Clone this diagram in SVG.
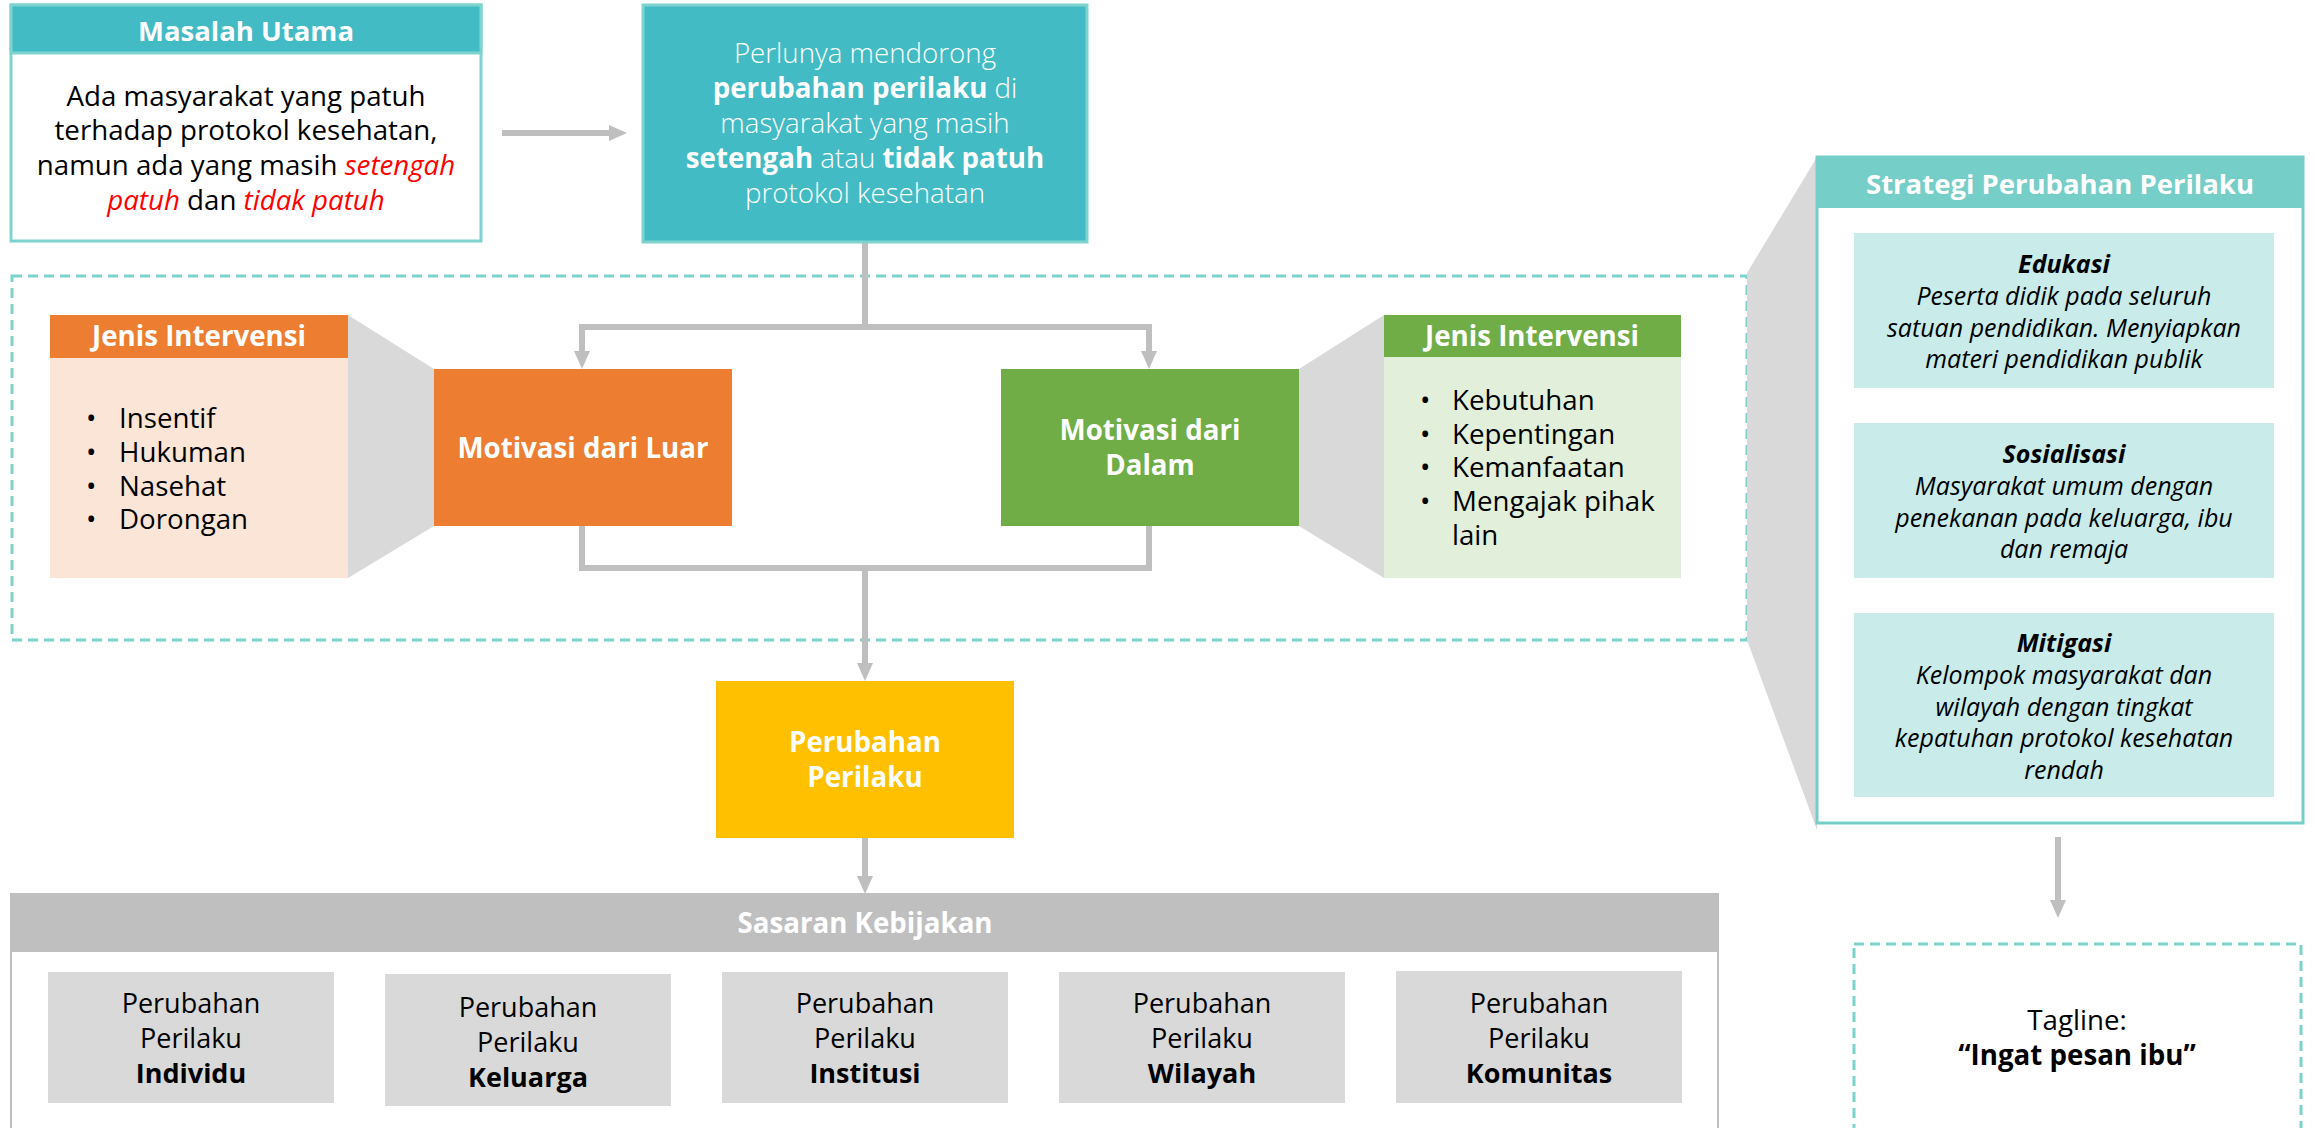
<svg xmlns="http://www.w3.org/2000/svg" width="2315" height="1128" viewBox="0 0 2315 1128">
<defs>
<style>
text{font-family:"Open Sans","Noto Sans",sans-serif;}
.c{text-anchor:middle;}
.w{fill:#fff;}
.k{fill:#000;}
.b{font-weight:700;}
.lt{font-weight:300;}
.it{font-style:italic;}
.red{fill:#FF0000;font-style:italic;}
.f26{font-size:27.7px;}
.f27{font-size:27px;}
.f24{font-size:25px;}
.conn{stroke:#BFBFBF;stroke-width:6;fill:none;}
.trap{fill:#D9D9D9;}
.sub{fill:#D9D9D9;}
.strat{fill:#C9EBE9;}
</style>
<marker id="ah" viewBox="0 0 18 16" refX="0" refY="8" markerWidth="18" markerHeight="16" markerUnits="userSpaceOnUse" orient="auto">
<path d="M0,0 L18,8 L0,16 z" fill="#BFBFBF"/>
</marker>
</defs>
<rect width="2315" height="1128" fill="#fff"/>

<!-- dashed region -->
<rect x="12" y="276" width="1735" height="364" fill="none" stroke="#7DD3CC" stroke-width="3" stroke-dasharray="10 6"/>

<!-- connectors -->
<g id="connectors">
<line class="conn" x1="502" y1="133" x2="609" y2="133" marker-end="url(#ah)"/>
<polyline class="conn" points="865,242 865,327"/>
<polyline class="conn" points="582,351 582,327 1149,327 1149,351"/>
<line class="conn" x1="582" y1="340" x2="582" y2="351" marker-end="url(#ah)"/>
<line class="conn" x1="1149" y1="340" x2="1149" y2="351" marker-end="url(#ah)"/>
<polyline class="conn" points="582,526 582,568 1149,568 1149,526"/>
<line class="conn" x1="865" y1="568" x2="865" y2="663" marker-end="url(#ah)"/>
<line class="conn" x1="865" y1="838" x2="865" y2="876" marker-end="url(#ah)"/>
<line class="conn" x1="2058" y1="837" x2="2058" y2="900" marker-end="url(#ah)"/>
</g>

<!-- Masalah Utama -->
<g id="masalah">
<rect x="11" y="5" width="470" height="236" fill="#fff" stroke="#7ED3CF" stroke-width="3"/>
<rect x="11" y="5" width="470" height="48" fill="#43BBC5" stroke="#7ED3CF" stroke-width="3"/>
<text x="246" y="41" class="c w b" font-size="27.5">Masalah Utama</text>
<text x="246" y="106" class="c k f26">Ada masyarakat yang patuh</text>
<text x="246" y="140" class="c k f26">terhadap protokol kesehatan,</text>
<text x="246" y="175" class="c k f26">namun ada yang masih <tspan class="red">setengah</tspan></text>
<text x="246" y="210" class="c k f26"><tspan class="red">patuh</tspan> dan <tspan class="red">tidak patuh</tspan></text>
</g>

<!-- Main teal box -->
<g id="perlunya">
<rect x="643" y="5" width="444" height="237" fill="#43BBC5" stroke="#7ED3CF" stroke-width="3"/>
<text x="865" y="63" class="c w lt f26">Perlunya mendorong</text>
<text x="865" y="98" class="c w lt f26"><tspan class="b">perubahan perilaku</tspan> di</text>
<text x="865" y="133" class="c w lt f26">masyarakat yang masih</text>
<text x="865" y="168" class="c w lt f26"><tspan class="b">setengah</tspan> atau <tspan class="b">tidak patuh</tspan></text>
<text x="865" y="203" class="c w lt f26">protokol kesehatan</text>
</g>

<!-- Jenis Intervensi (orange) -->
<g id="jenis-luar">
<polygon class="trap" points="348,315 434,369 434,526 348,578"/>
<rect x="50" y="315" width="298" height="263" fill="#FBE5D6"/>
<rect x="50" y="315" width="298" height="43" fill="#ED7D31"/>
<text x="199" y="346" class="c w b f26">Jenis Intervensi</text>
<g class="k f26">
<text x="86" y="428">•</text><text x="119" y="428">Insentif</text>
<text x="86" y="462">•</text><text x="119" y="462">Hukuman</text>
<text x="86" y="496">•</text><text x="119" y="496">Nasehat</text>
<text x="86" y="529">•</text><text x="119" y="529">Dorongan</text>
</g>
</g>

<!-- Motivasi dari Luar -->
<g id="motivasi-luar">
<rect x="434" y="369" width="298" height="157" fill="#ED7D31"/>
<text x="583" y="458" class="c w b f26">Motivasi dari Luar</text>
</g>

<!-- Motivasi dari Dalam -->
<g id="motivasi-dalam">
<rect x="1001" y="369" width="298" height="157" fill="#70AD47"/>
<text x="1150" y="440" class="c w b f26">Motivasi dari</text>
<text x="1150" y="475" class="c w b f26">Dalam</text>
</g>

<!-- Jenis Intervensi (green) -->
<g id="jenis-dalam">
<polygon class="trap" points="1299,369 1384,315 1384,578 1299,526"/>
<rect x="1384" y="315" width="297" height="263" fill="#E2EFDA"/>
<rect x="1384" y="315" width="297" height="42" fill="#70AD47"/>
<text x="1532" y="346" class="c w b f26">Jenis Intervensi</text>
<g class="k f26">
<text x="1420" y="410">•</text><text x="1452" y="410">Kebutuhan</text>
<text x="1420" y="444">•</text><text x="1452" y="444">Kepentingan</text>
<text x="1420" y="477">•</text><text x="1452" y="477">Kemanfaatan</text>
<text x="1420" y="511">•</text><text x="1452" y="511">Mengajak pihak</text>
<text x="1452" y="545">lain</text>
</g>
</g>

<!-- Perubahan Perilaku -->
<g id="perubahan">
<rect x="716" y="681" width="298" height="157" fill="#FFC000"/>
<text x="865" y="752" class="c w b f26">Perubahan</text>
<text x="865" y="787" class="c w b f26">Perilaku</text>
</g>

<!-- Strategi -->
<g id="strategi">
<polygon class="trap" points="1817,157 1747,273 1747,640 1817,830"/>
<rect x="1817" y="157" width="486" height="666" fill="#fff" stroke="#76CEC8" stroke-width="3"/>
<rect x="1817" y="157" width="486" height="51" fill="#76CEC8"/>
<text x="2060" y="194" class="c w b" font-size="27.5">Strategi Perubahan Perilaku</text>

<rect class="strat" x="1854" y="233" width="420" height="155"/>
<text x="2064" y="273" class="c k b it f24">Edukasi</text>
<text x="2064" y="305" class="c k it f24">Peserta didik pada seluruh</text>
<text x="2064" y="337" class="c k it f24">satuan pendidikan. Menyiapkan</text>
<text x="2064" y="368" class="c k it f24">materi pendidikan publik</text>

<rect class="strat" x="1854" y="423" width="420" height="155"/>
<text x="2064" y="463" class="c k b it f24">Sosialisasi</text>
<text x="2064" y="495" class="c k it f24">Masyarakat umum dengan</text>
<text x="2064" y="527" class="c k it f24">penekanan pada keluarga, ibu</text>
<text x="2064" y="558" class="c k it f24">dan remaja</text>

<rect class="strat" x="1854" y="613" width="420" height="184"/>
<text x="2064" y="652" class="c k b it f24">Mitigasi</text>
<text x="2064" y="684" class="c k it f24">Kelompok masyarakat dan</text>
<text x="2064" y="716" class="c k it f24">wilayah dengan tingkat</text>
<text x="2064" y="747" class="c k it f24">kepatuhan protokol kesehatan</text>
<text x="2064" y="779" class="c k it f24">rendah</text>
</g>

<!-- Tagline -->
<g id="tagline">
<rect x="1854" y="944" width="447" height="200" fill="none" stroke="#7DD3CC" stroke-width="3" stroke-dasharray="10 6"/>
<text x="2077" y="1030" class="c k f26">Tagline:</text>
<text x="2077" y="1065" class="c k b f26">“Ingat pesan ibu”</text>
</g>

<!-- Sasaran Kebijakan -->
<g id="sasaran">
<rect x="11" y="894" width="1707" height="250" fill="#fff" stroke="#BFBFBF" stroke-width="2"/>
<rect x="11" y="894" width="1707" height="58" fill="#BFBFBF"/>
<text x="865" y="933" class="c w b f26">Sasaran Kebijakan</text>
</g>
<g id="sasaran-individu">
<rect class="sub" x="48" y="972" width="286" height="131"/>
<text x="191" y="1013" class="c k f27">Perubahan</text>
<text x="191" y="1048" class="c k f27">Perilaku</text>
<text x="191" y="1083" class="c k b f27">Individu</text>
</g>
<g id="sasaran-keluarga">
<rect class="sub" x="385" y="974" width="286" height="132"/>
<text x="528" y="1017" class="c k f27">Perubahan</text>
<text x="528" y="1052" class="c k f27">Perilaku</text>
<text x="528" y="1087" class="c k b f27">Keluarga</text>
</g>
<g id="sasaran-institusi">
<rect class="sub" x="722" y="972" width="286" height="131"/>
<text x="865" y="1013" class="c k f27">Perubahan</text>
<text x="865" y="1048" class="c k f27">Perilaku</text>
<text x="865" y="1083" class="c k b f27">Institusi</text>
</g>
<g id="sasaran-wilayah">
<rect class="sub" x="1059" y="972" width="286" height="131"/>
<text x="1202" y="1013" class="c k f27">Perubahan</text>
<text x="1202" y="1048" class="c k f27">Perilaku</text>
<text x="1202" y="1083" class="c k b f27">Wilayah</text>
</g>
<g id="sasaran-komunitas">
<rect class="sub" x="1396" y="971" width="286" height="132"/>
<text x="1539" y="1013" class="c k f27">Perubahan</text>
<text x="1539" y="1048" class="c k f27">Perilaku</text>
<text x="1539" y="1083" class="c k b f27">Komunitas</text>
</g>
</svg>
